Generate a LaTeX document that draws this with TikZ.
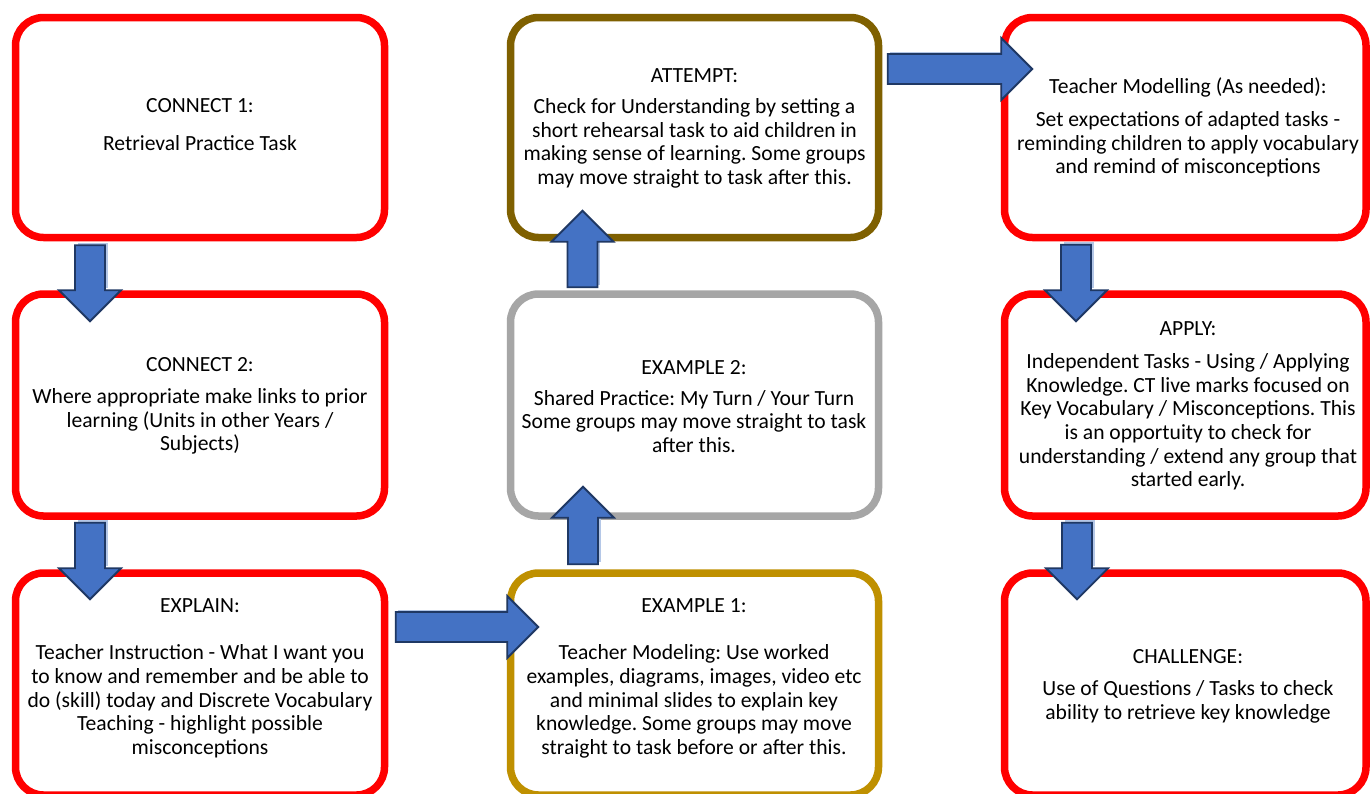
\documentclass[tikz,border=0pt]{standalone}
\usepackage{fontspec}
\setmainfont{Carlito}
\usetikzlibrary{calc}
\frenchspacing

\definecolor{boxred}{HTML}{FF0000}
\definecolor{attbrown}{HTML}{7F6000}
\definecolor{exgray}{HTML}{A6A6A6}
\definecolor{exgold}{HTML}{BF9000}
\definecolor{arrowfill}{HTML}{4472C4}
\definecolor{arrowline}{HTML}{1F3864}
\definecolor{arrowglow}{HTML}{B4C7E7}

% Block arrow from #1 (shaft end) to #2 (tip)
\newcommand{\blockarrow}[2]{%
  \coordinate (bas) at (#1);
  \coordinate (bat) at (#2);
  \coordinate (bab) at ($(bat)!31pt!(bas)$);
  \fill[arrowglow, transform canvas={shift={(2.5pt,2.5pt)}}]
    ($(bas)!15pt!90:(bat)$) -- ($(bab)!15pt!90:(bat)$) --
    ($(bab)!15pt!-90:(bat)$) -- ($(bas)!15pt!-90:(bat)$) -- cycle;
  \draw[blockarrow]
    ($(bas)!15pt!90:(bat)$) -- ($(bab)!15pt!90:(bat)$) --
    ($(bab)!31pt!90:(bat)$) -- (bat) --
    ($(bab)!31pt!-90:(bat)$) -- ($(bab)!15pt!-90:(bat)$) --
    ($(bas)!15pt!-90:(bat)$) -- cycle;
}

\tikzset{
  stagebox/.style={draw=#1, line width=7.5pt, rounded corners=28pt,
    fill=white, inner sep=0pt, minimum height=220pt},
  stagetext/.style={align=center, inner sep=0pt,
    font=\fontsize{21.6}{23.7}\selectfont, text=black},
  blockarrow/.style={fill=arrowfill, draw=arrowline, line width=1.8pt,
    line join=miter},
}

\begin{document}
\begin{tikzpicture}[x=1pt, y=-1pt]
\useasboundingbox (0,0) rectangle (1370,793);
\clip (0,0) rectangle (1370,793);
\fill[white] (0,0) rectangle (1370,793);

% Stage boxes
\node[stagebox=boxred, minimum width=369pt] (c1) at (200,127.5) {};
\node[stagebox=boxred, minimum width=369pt, minimum height=222pt] (c2) at (200,405) {};
\node[stagebox=boxred, minimum width=369pt, minimum height=222pt] (c3) at (200,684) {};
\node[stagebox=attbrown, minimum width=368pt] (att) at (694.5,127.5) {};
\node[stagebox=exgray, minimum width=368pt, minimum height=222pt] (ex2) at (694.5,405) {};
\node[stagebox=exgold, minimum width=368pt, minimum height=222pt] (ex1) at (694.5,684) {};
\node[stagebox=boxred, minimum width=361.5pt] (tm) at (1185.25,127.5) {};
\node[stagebox=boxred, minimum width=361.5pt, minimum height=222pt] (ap) at (1185.25,405) {};
\node[stagebox=boxred, minimum width=361.5pt, minimum height=222pt] (ch) at (1185.25,684) {};

% Texts
\node[stagetext] (c1t) at (200,124.5) {CONNECT 1:\\[14.3pt] Retrieval Practice Task};
\node[stagetext] (c2t) at (200,406) {CONNECT 2:\\[8.3pt] Where appropriate make links to prior\\ learning (Units in other Years /\\ Subjects)};
\node[stagetext] (c3t) at (200,678.5) {EXPLAIN:\\[23.3pt] Teacher Instruction - What I want you\\ to know and remember and be able to\\ do (skill) today and Discrete Vocabulary\\ Teaching - highlight possible\\ misconceptions};
\node[stagetext] (attt) at (694.5,128.5) {ATTEMPT:\\[7.3pt] Check for Understanding by setting a\\ short rehearsal task to aid children in\\ making sense of learning. Some groups\\ may move straight to task after this.};
\node[stagetext] (ex2t) at (694,406.5) {EXAMPLE 2:\\[7.3pt] Shared Practice: My Turn / Your Turn\\ Some groups may move straight to task\\ after this.};
\node[stagetext] (ex1t) at (694,678.5) {EXAMPLE 1:\\[23.3pt] Teacher Modeling: Use worked\\ examples, diagrams, images, video etc\\ and minimal slides to explain key\\ knowledge. Some groups may move\\ straight to task before or after this.};
\node[stagetext] (tmt) at (1188,127.5) {Teacher Modelling (As needed):\\[9.3pt] Set expectations of adapted tasks -\\ reminding children to apply vocabulary\\ and remind of misconceptions};
\node[stagetext] (apt) at (1188,406) {APPLY:\\[9.3pt] Independent Tasks - Using / Applying\\ Knowledge. CT live marks focused on\\ Key Vocabulary / Misconceptions. This\\ is an opportuity to check for\\ understanding / extend any group that\\ started early.};
\node[stagetext] (cht) at (1188,686) {CHALLENGE:\\[8.3pt] Use of Questions / Tasks to check\\ ability to retrieve key knowledge};

% Flow arrows
\blockarrow{[xshift=-110pt,yshift=-4pt]c1.south}{[xshift=-110pt,yshift=-31pt]c2.north}
\blockarrow{[xshift=-110pt,yshift=-3pt]c2.south}{[xshift=-110pt,yshift=-30pt]c3.north}
\blockarrow{[xshift=7.5pt,yshift=57pt]c3.east}{[xshift=31.5pt,yshift=57pt]ex1.west}
\blockarrow{[xshift=-111.5pt,yshift=5pt]ex1.north}{[xshift=-111.5pt,yshift=33pt]ex2.south}
\blockarrow{[xshift=-112pt,yshift=3pt]ex2.north}{[xshift=-112pt,yshift=30.5pt]att.south}
\blockarrow{[xshift=5.5pt,yshift=58.5pt]att.east}{[xshift=31.5pt,yshift=58.5pt]tm.west}
\blockarrow{[xshift=-109.25pt,yshift=-3.5pt]tm.south}{[xshift=-109.25pt,yshift=-31pt]ap.north}
\blockarrow{[xshift=-108.25pt,yshift=-3pt]ap.south}{[xshift=-108.25pt,yshift=-30pt]ch.north}
\end{tikzpicture}
\end{document}
